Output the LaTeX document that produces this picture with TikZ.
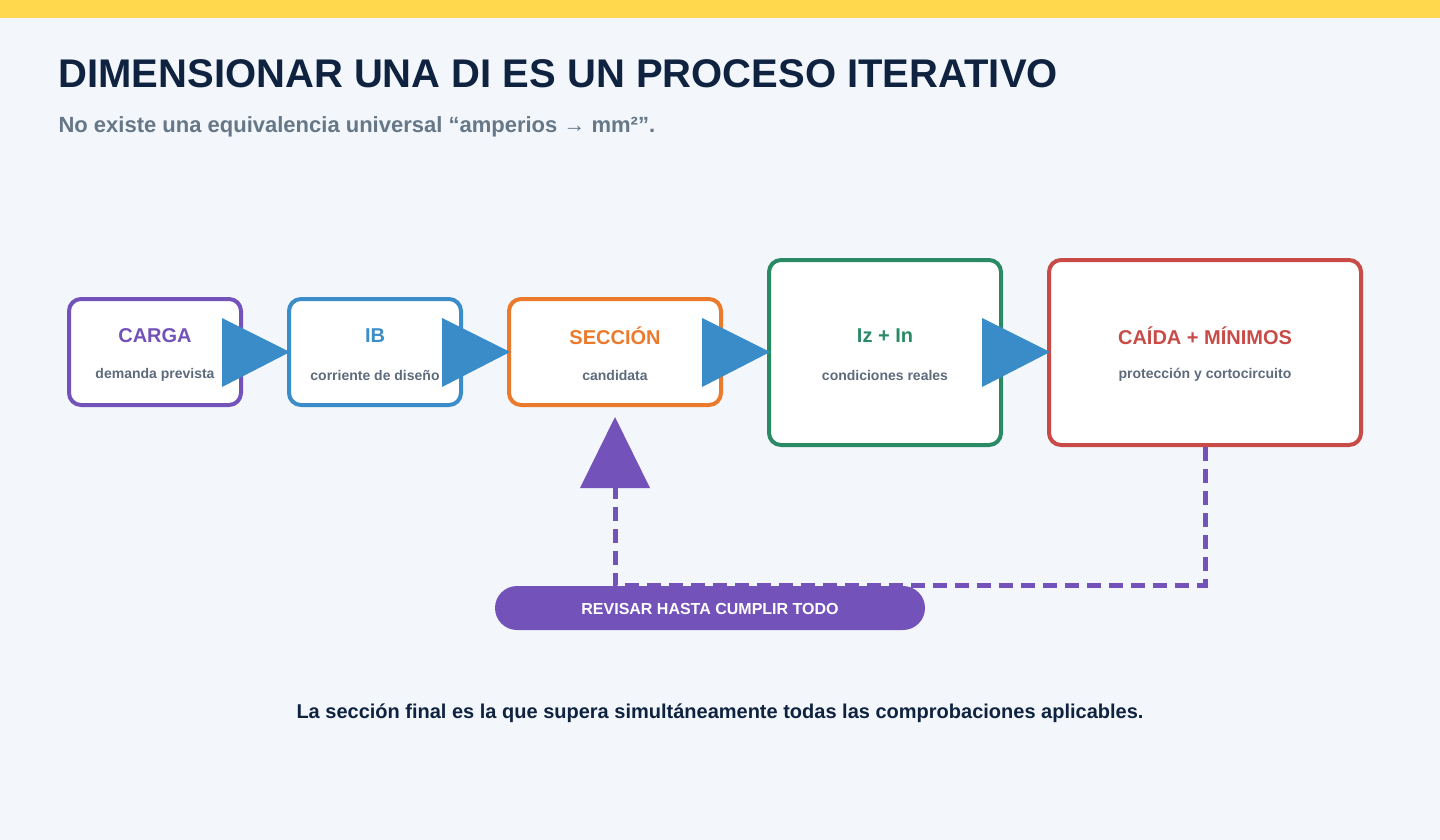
\documentclass[tikz,border=0pt]{standalone}
\usepackage{fontspec}
\setmainfont{Liberation Sans}
\begin{document}
\begin{tikzpicture}[x=1pt,y=-1pt,
  box/.style={draw,line width=4pt,rounded corners=12pt,fill=white},
  ttl/.style={font=\fontsize{20}{24}\selectfont\bfseries},
  sub/.style={font=\fontsize{14}{17}\selectfont\bfseries,text=subc},
  tri/.style={fill=arrb},
  fbdash/.style={draw=purp,line width=5pt,dash pattern=on 14pt off 8pt}]
\definecolor{bg}{HTML}{F3F7FC}\definecolor{yel}{HTML}{FFD84D}
\definecolor{dark}{HTML}{0F2340}\definecolor{gr}{HTML}{667788}
\definecolor{subc}{HTML}{5E6B7D}\definecolor{purp}{HTML}{7352BA}
\definecolor{blu}{HTML}{3A8DC8}\definecolor{ora}{HTML}{EC7A2C}
\definecolor{grn}{HTML}{2A8A65}\definecolor{red}{HTML}{C84B48}
\definecolor{arrb}{HTML}{3A8CC8}
\fill[bg] (0,0) rectangle (1440,840);
\useasboundingbox (0,0) rectangle (1440,840);
\fill[yel] (0,0) rectangle (1440,18);
\node[anchor=base west,text=dark,font=\fontsize{40}{48}\selectfont\bfseries] (t) at (55,88) {DIMENSIONAR UNA DI ES UN PROCESO ITERATIVO};
\node[anchor=base west,text=gr,font=\fontsize{22}{26}\selectfont\bfseries] (s) at (55,133) {No existe una equivalencia universal “amperios → mm²”.};
% boxes
\draw[box,draw=purp] (69,299) rectangle (241,405);
\draw[box,draw=blu] (289,299) rectangle (461,405);
\draw[box,draw=ora] (509,299) rectangle (721,405);
\draw[box,draw=grn] (769,260) rectangle (1001,445);
\draw[box,draw=red] (1049,260) rectangle (1361,445);
\node[ttl,text=purp] (c1) at (155,336) {CARGA};
\node[sub] (d1) at (155,375) {demanda prevista};
\node[ttl,text=blu] (c2) at (375,336) {IB};
\node[sub] (d2) at (375,375) {corriente de diseño};
\node[ttl,text=ora] (c3) at (615,336) {SECCIÓN};
\node[sub] (d3) at (615,375) {candidata};
\node[ttl,text=grn] (c4) at (885,336) {Iz + In};
\node[sub] (d4) at (885,375) {condiciones reales};
\node[ttl,text=red] (c5) at (1205,336) {CAÍDA + MÍNIMOS};
\node[sub] (d5) at (1205,375) {protección y cortocircuito};
% arrowheads
\foreach \x in {222,442,702,982}{\fill[tri] (\x,318) -- (\x+68,352) -- (\x,387) -- cycle;}
% feedback
\draw[fbdash] (1205,447) -- (1205,585) -- (615,585) -- (615,488);
\fill[purp] (615,417) -- (650,488) -- (580,488) -- cycle;
\fill[purp,rounded corners=22pt] (495,586) rectangle (925,630);
\node[text=white,font=\fontsize{16}{19}\selectfont\bfseries] (p) at (710,609) {REVISAR HASTA CUMPLIR TODO};
\node[text=dark,font=\fontsize{20}{24}\selectfont\bfseries] (b) at (720,713) {La sección final es la que supera simultáneamente todas las comprobaciones aplicables.};
\end{tikzpicture}
\end{document}
